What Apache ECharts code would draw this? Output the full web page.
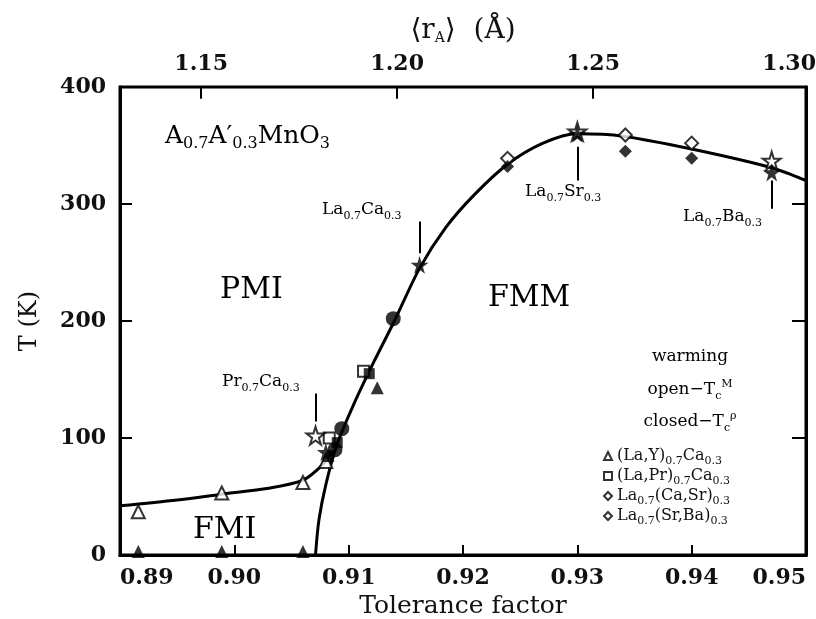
<!DOCTYPE html>
<html>
<head>
<meta charset="utf-8">
<script src="https://cdn.jsdelivr.net/npm/echarts@6/dist/echarts.min.js"></script>
<style>
  html, body { margin: 0; padding: 0; background: #fff; }
  #main { width: 816px; height: 619px; }
</style>
</head>
<body>
<div id="main"></div>
<script>
// phase boundary curves (tolerance factor, T in K)
var mainCurve = [[0.9071, 0], [0.9074, 30], [0.9080, 60], [0.9090, 95], [0.9105, 130], [0.9122, 165],
    [0.9140, 200], [0.9162, 245], [0.9185, 280], [0.9210, 308], [0.9239, 334], [0.9270, 352],
    [0.9300, 360], [0.9340, 358], [0.9400, 347], [0.9470, 331], [0.9500, 320]];
var fmiCurve = [[0.8900, 42], [0.8950, 47], [0.8989, 52], [0.9030, 57], [0.9060, 64], [0.9076, 76], [0.9088, 90]];

// measured points
var triOpen = [[0.8916, 37], [0.8989, 53], [0.9060, 62], [0.9080, 80]];
var triFilled = [[0.8916, 3], [0.8989, 3], [0.9060, 3], [0.9125, 143], [0.9082, 85]];
var sqOpen = [[0.9113, 157], [0.9083, 100]];
var sqFilled = [[0.9118, 155], [0.9090, 96]];
var caSrOpen = [[0.9239, 339]];
var caSrFilled = [[0.9239, 332]];
var srBaOpen = [[0.9342, 359], [0.9400, 352]];
var srBaFilled = [[0.9342, 345], [0.9400, 339]];
var starOpen = [[0.9071, 102], [0.9470, 337], [0.9300, 362]];
var starFilled = [[0.9162, 248], [0.9300, 360], [0.9470, 327], [0.9080, 88]];
var circFilled = [[0.9139, 202], [0.9094, 108], [0.9088, 90]];

// pointer lines of the compound labels: [x, T from, T to]
var pointers = [[0.9162, 285, 258], [0.9071, 138, 114], [0.9300, 349, 320], [0.9470, 320, 296]];

// axis ticks
var rTicks = [1.15, 1.20, 1.25, 1.30];
var rMin = 1.1293, rMax = 1.3043;

var FONT = 'DejaVu Serif';
var star = 'path://M50,0 L61,35 L98,35 L68,57 L79,91 L50,70 L21,91 L32,57 L2,35 L39,35 Z';
var legendNames = ['(La,Y)0.7Ca0.3', '(La,Pr)0.7Ca0.3', 'La0.7(Ca,Sr)0.3', 'La0.7(Sr,Ba)0.3'];
var legendRich = {
    '(La,Y)0.7Ca0.3': '{n|(La,Y)}{s|0.7}{n|Ca}{s|0.3}',
    '(La,Pr)0.7Ca0.3': '{n|(La,Pr)}{s|0.7}{n|Ca}{s|0.3}',
    'La0.7(Ca,Sr)0.3': '{n|La}{s|0.7}{n|(Ca,Sr)}{s|0.3}',
    'La0.7(Sr,Ba)0.3': '{n|La}{s|0.7}{n|(Sr,Ba)}{s|0.3}'
};

function rich(size, sub) {
    return {
        n: { fontFamily: FONT, fontSize: size, color: '#111', lineHeight: size + 6 },
        s: { fontFamily: FONT, fontSize: sub, color: '#111', verticalAlign: 'bottom', lineHeight: sub },
        p: { fontFamily: FONT, fontSize: sub, color: '#111', verticalAlign: 'top', lineHeight: sub }
    };
}

function label(x, y, text, size, sub, align) {
    return {
        type: 'text', x: x, y: y, z: 10,
        style: { text: text, rich: rich(size, sub), align: align || 'left', verticalAlign: 'middle' }
    };
}

function pts(name, data, symbol, size, filled) {
    return {
        name: name, type: 'scatter', data: data, symbol: symbol, symbolSize: size,
        itemStyle: filled ? { color: '#000' } : { color: '#fff', borderColor: '#000', borderWidth: 2 },
        z: filled ? 4 : 3
    };
}

var tickFont = { fontFamily: FONT, fontSize: 22, fontWeight: 'bold', color: '#111' };

var myChart = echarts.init(document.getElementById('main'));
var option = {
    animation: false,
    backgroundColor: '#fff',
    grid: {
        left: 120, right: 10, top: 87, bottom: 64, outerBoundsMode: 'none',
        show: true, borderColor: '#000', borderWidth: 3
    },
    xAxis: [{
        type: 'value', min: 0.89, max: 0.95, interval: 0.01,
        name: 'Tolerance factor', nameLocation: 'middle', nameGap: 34,
        nameTextStyle: { fontFamily: FONT, fontSize: 25, color: '#111' },
        axisLine: { show: true, lineStyle: { color: '#000', width: 3 } },
        axisTick: { inside: true, length: 10, lineStyle: { color: '#000', width: 2 } },
        axisLabel: Object.assign({
            margin: 12, alignMinLabel: 'left', alignMaxLabel: 'right',
            formatter: function (v) { return v.toFixed(2); }
        }, tickFont),
        splitLine: { show: false }
    }, {
        type: 'value', position: 'top', min: rMin, max: rMax,
        name: '⟨r{s|A}⟩  (Å)', nameLocation: 'middle', nameGap: 42,
        nameTextStyle: { fontFamily: FONT, fontSize: 28, color: '#111', rich: rich(28, 14) },
        axisLine: { show: true, lineStyle: { color: '#000', width: 3 } },
        axisTick: { show: false },
        axisLabel: Object.assign({
            margin: 12, customValues: rTicks,
            formatter: function (v) { return v.toFixed(2); }
        }, tickFont),
        splitLine: { show: false }
    }],
    yAxis: [{
        type: 'value', min: 0, max: 400, interval: 100,
        name: 'T (K)', nameLocation: 'middle', nameGap: 78, nameRotate: 90,
        nameTextStyle: { fontFamily: FONT, fontSize: 24, color: '#111' },
        axisLine: { show: true, lineStyle: { color: '#000', width: 3 } },
        axisTick: { inside: true, length: 12, lineStyle: { color: '#000', width: 2 } },
        axisLabel: Object.assign({ margin: 14 }, tickFont),
        splitLine: { show: false }
    }, {
        type: 'value', position: 'right', min: 0, max: 400, interval: 100,
        axisLine: { show: true, lineStyle: { color: '#000', width: 3 } },
        axisTick: { inside: true, length: 14, lineStyle: { color: '#000', width: 2 } },
        axisLabel: { show: false },
        splitLine: { show: false }
    }],
    legend: {
        data: legendNames, orient: 'vertical', left: 598, top: 443,
        itemWidth: 8, itemHeight: 8, itemGap: 1,
        formatter: function (name) { return legendRich[name]; },
        textStyle: { rich: rich(16, 11) }
    },
    series: [{
        name: 'boundary', type: 'line', data: mainCurve, smooth: 0.3,
        showSymbol: false, lineStyle: { color: '#000', width: 3 }, z: 2,
        markLine: {
            silent: true, symbol: 'none', label: { show: false },
            lineStyle: { color: '#000', width: 2, type: 'solid' },
            data: pointers.map(function (p) { return [{ coord: [p[0], p[1]] }, { coord: [p[0], p[2]] }]; })
        }
    }, {
        name: 'fmi', type: 'line', data: fmiCurve, smooth: 0.3,
        showSymbol: false, lineStyle: { color: '#000', width: 3 }, z: 2
    }, {
        // ticks of the <rA> axis, hanging down from the top border
        name: 'rA ticks', type: 'scatter', xAxisIndex: 1, data: [], silent: true,
        markLine: {
            silent: true, symbol: 'none', label: { show: false },
            lineStyle: { color: '#000', width: 2, type: 'solid' },
            data: rTicks.slice(0, 3).map(function (r) { return [{ coord: [r, 400] }, { coord: [r, 390] }]; })
        }
    },
        pts(legendNames[0], triOpen, 'triangle', 13, false),
        pts(legendNames[0], triFilled, 'triangle', 13, true),
        pts(legendNames[1], sqOpen, 'rect', 11, false),
        pts(legendNames[1], sqFilled, 'rect', 11, true),
        pts(legendNames[2], caSrOpen, 'diamond', 13, false),
        pts(legendNames[2], caSrFilled, 'diamond', 13, true),
        pts(legendNames[3], srBaOpen, 'diamond', 13, false),
        pts(legendNames[3], srBaFilled, 'diamond', 13, true),
        pts('stars', starOpen, star, 18, false),
        pts('stars filled', starFilled, star, 18, true),
        pts('circles', circFilled, 'circle', 15, true)
    ],
    graphic: [
        label(165, 136, '{n|A}{s|0.7}{n|A′}{s|0.3}{n|MnO}{s|3}', 25, 16),
        label(220, 290, '{n|PMI}', 30, 16),
        label(488, 298, '{n|FMM}', 30, 16),
        label(193, 530, '{n|FMI}', 30, 16),
        label(322, 210, '{n|La}{s|0.7}{n|Ca}{s|0.3}', 17, 11),
        label(222, 382, '{n|Pr}{s|0.7}{n|Ca}{s|0.3}', 17, 11),
        label(525, 192, '{n|La}{s|0.7}{n|Sr}{s|0.3}', 17, 11),
        label(683, 217, '{n|La}{s|0.7}{n|Ba}{s|0.3}', 17, 11),
        label(690, 357, '{n|warming}', 17, 11, 'center'),
        label(690, 390, '{n|open−T}{s|c}{p|M}', 17, 11, 'center'),
        label(690, 422, '{n|closed−T}{s|c}{p|ρ}', 17, 11, 'center')
    ]
};
myChart.setOption(option);
</script>
</body>
</html>
